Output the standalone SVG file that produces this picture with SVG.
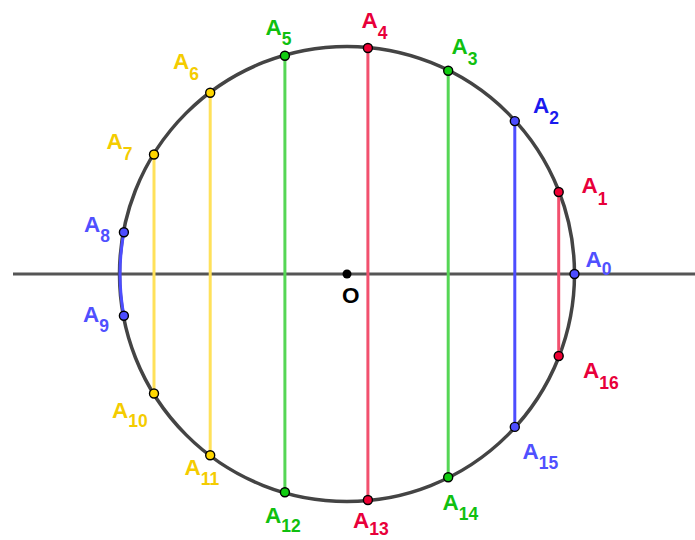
<svg xmlns="http://www.w3.org/2000/svg" width="695" height="540" viewBox="0 0 695 540">
<style>
.lbl{font-family:"Liberation Sans",Arial,sans-serif;font-size:22.5px;font-weight:bold}
.sub{font-size:17.5px}
.red{fill:#e8003a}.blue{fill:#1a1aee}.blue2{fill:#5050ff}.green{fill:#10c010}.yel{fill:#f4cc00}.blk{fill:#000}
.ch{stroke-width:3;fill:none}
.cr{stroke:#f2506e}.cb{stroke:#4d4dff}.cg{stroke:#55d655}.cy{stroke:#ffe15a}
.pt{stroke:#000;stroke-width:1.4}
.pr{fill:#ee0033}.pb{fill:#4d4dff}.pg{fill:#11cc11}.py{fill:#ffd700}
</style>
<rect width="695" height="540" fill="#fff"/>
<g id="axis"><line x1="13" y1="274" x2="695" y2="274" stroke="#555" stroke-width="3"/></g>
<g id="circle"><circle cx="347" cy="274" r="227.5" fill="none" stroke="#444" stroke-width="3.5"/></g>
<g id="connectors">
<line class="ch cr" x1="558.7" y1="192" x2="558.7" y2="356"/>
<line class="ch cb" x1="514.8" y1="121.1" x2="514.8" y2="426.9"/>
<line class="ch cg" x1="448.2" y1="70.8" x2="448.2" y2="477.2"/>
<line class="ch cr" x1="367.9" y1="48" x2="367.9" y2="500"/>
<line class="ch cg" x1="284.9" y1="55.7" x2="284.9" y2="492.3"/>
<line class="ch cy" x1="210.2" y1="92.8" x2="210.2" y2="455.2"/>
<line class="ch cy" x1="154" y1="154.5" x2="154" y2="393.5"/>
<path class="ch" stroke="#4d4dff" stroke-width="4" d="M123.9,232.3 A227.5,227.5 0 0 0 123.9,315.7"/>
</g>
<g id="O"><circle cx="347" cy="274" r="4.5" fill="#000"/><text class="lbl blk" x="342" y="303" font-weight="normal" font-size="21">O</text></g>
<g id="A0"><circle class="pt pb" cx="574.5" cy="274" r="4.5"/><text class="lbl blue2" x="585.5" y="266.5">A<tspan class="sub" dy="8.5">0</tspan></text></g>
<g id="A1"><circle class="pt pr" cx="558.7" cy="192" r="4.5"/><text class="lbl red" x="581.5" y="193">A<tspan class="sub" dy="12">1</tspan></text></g>
<g id="A2"><circle class="pt pb" cx="514.8" cy="121.1" r="4.5"/><text class="lbl blue" x="533" y="112.5">A<tspan class="sub" dy="11">2</tspan></text></g>
<g id="A3"><circle class="pt pg" cx="448.2" cy="70.8" r="4.5"/><text class="lbl green" x="451.5" y="53.5">A<tspan class="sub" dy="11">3</tspan></text></g>
<g id="A4"><circle class="pt pr" cx="367.9" cy="48" r="4.5"/><text class="lbl red" x="361.5" y="28">A<tspan class="sub" dy="10.5">4</tspan></text></g>
<g id="A5"><circle class="pt pg" cx="284.9" cy="55.7" r="4.5"/><text class="lbl green" x="265.5" y="34.5">A<tspan class="sub" dy="10">5</tspan></text></g>
<g id="A6"><circle class="pt py" cx="210.2" cy="92.8" r="4.5"/><text class="lbl yel" x="173" y="68.5">A<tspan class="sub" dy="11">6</tspan></text></g>
<g id="A7"><circle class="pt py" cx="154" cy="154.5" r="4.5"/><text class="lbl yel" x="106.5" y="148.5">A<tspan class="sub" dy="11">7</tspan></text></g>
<g id="A8"><circle class="pt pb" cx="123.9" cy="232.3" r="4.5"/><text class="lbl blue2" x="84" y="231.5">A<tspan class="sub" dy="10">8</tspan></text></g>
<g id="A9"><circle class="pt pb" cx="123.9" cy="315.7" r="4.5"/><text class="lbl blue2" x="83" y="321.5">A<tspan class="sub" dy="10">9</tspan></text></g>
<g id="A10"><circle class="pt py" cx="154" cy="393.5" r="4.5"/><text class="lbl yel" x="112" y="417.5">A<tspan class="sub" dy="9.5">10</tspan></text></g>
<g id="A11"><circle class="pt py" cx="210.2" cy="455.2" r="4.5"/><text class="lbl yel" x="184.5" y="475">A<tspan class="sub" dy="10">11</tspan></text></g>
<g id="A12"><circle class="pt pg" cx="284.9" cy="492.3" r="4.5"/><text class="lbl green" x="265" y="523">A<tspan class="sub" dy="8.5">12</tspan></text></g>
<g id="A13"><circle class="pt pr" cx="367.9" cy="500" r="4.5"/><text class="lbl red" x="353" y="528">A<tspan class="sub" dy="7">13</tspan></text></g>
<g id="A14"><circle class="pt pg" cx="448.2" cy="477.2" r="4.5"/><text class="lbl green" x="442.5" y="509.5">A<tspan class="sub" dy="10.5">14</tspan></text></g>
<g id="A15"><circle class="pt pb" cx="514.8" cy="426.9" r="4.5"/><text class="lbl blue2" x="522.5" y="459">A<tspan class="sub" dy="10">15</tspan></text></g>
<g id="A16"><circle class="pt pr" cx="558.7" cy="356" r="4.5"/><text class="lbl red" x="583" y="377.5">A<tspan class="sub" dy="11">16</tspan></text></g>
</svg>
